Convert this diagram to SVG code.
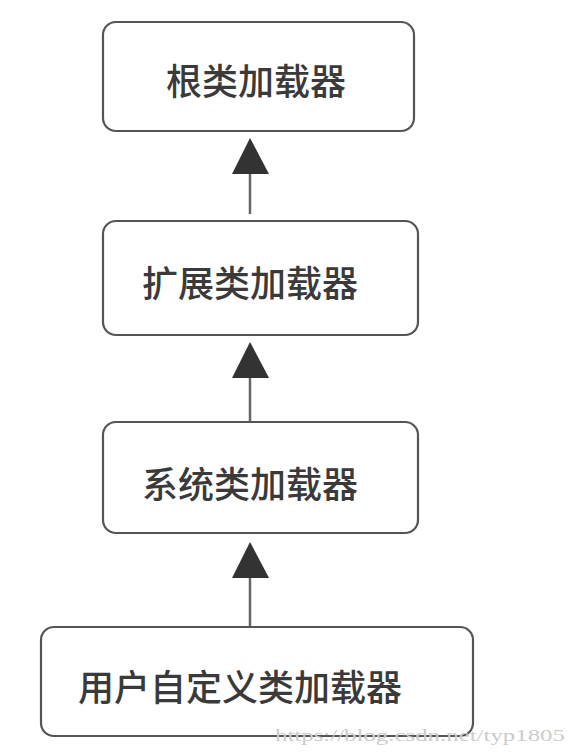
<svg xmlns="http://www.w3.org/2000/svg" width="577" height="755" viewBox="0 0 577 755">
<defs>
<style>
.box{fill:#fff;stroke:#555;stroke-width:2.2}
.lbl{font-family:"Noto Sans CJK SC","Noto Sans",sans-serif;font-size:36px;font-weight:500;fill:#3a3a3a;text-anchor:middle;dominant-baseline:central}
.line{stroke:#666;stroke-width:2.5;fill:none}
.head{fill:#333}
.wm{font-family:"Liberation Serif",serif;font-size:17px;fill:#ccc}
</style>
</defs>
<rect width="577" height="755" fill="#fff"/>
<g id="connectors">
<line class="line" x1="250" y1="170" x2="250" y2="214"/>
<polygon class="head" points="250,138 232,174 269,174"/>
<line class="line" x1="250" y1="374" x2="250" y2="421"/>
<polygon class="head" points="250,342 232,378 269,378"/>
<line class="line" x1="250" y1="574" x2="250" y2="627"/>
<polygon class="head" points="250,542 232,578 269,578"/>
</g>
<g id="root">
<rect class="box" x="103" y="22" width="311" height="109" rx="13"/>
<text class="lbl" x="256" y="79">根类加载器</text>
</g>
<g id="ext">
<rect class="box" x="103" y="221" width="315" height="114" rx="13"/>
<text class="lbl" x="250" y="281">扩展类加载器</text>
</g>
<g id="sys">
<rect class="box" x="103" y="422" width="315" height="111" rx="13"/>
<text class="lbl" x="250" y="482">系统类加载器</text>
</g>
<g id="user">
<rect class="box" x="41" y="627" width="432" height="109" rx="13"/>
<text class="lbl" x="240" y="685">用户自定义类加载器</text>
</g>
<text class="wm" x="275" y="741" textLength="290" lengthAdjust="spacingAndGlyphs">https://blog.csdn.net/typ1805</text>
</svg>
